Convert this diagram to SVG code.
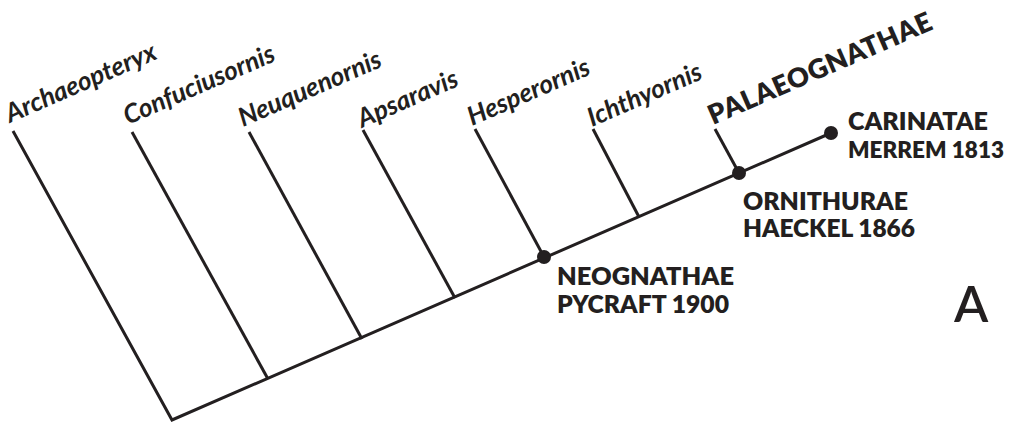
<svg xmlns="http://www.w3.org/2000/svg" width="1012" height="429" viewBox="0 0 1012 429">
<style>
.ln{stroke:#231f20;stroke-width:3;fill:none;stroke-linecap:butt}
.dot{fill:#231f20}
.tx{font-family:Lato,"Open Sans","Liberation Sans",sans-serif;font-style:italic;font-weight:700;font-size:26px;fill:#231f20}
.cl{font-family:Lato,"Open Sans","Liberation Sans",sans-serif;font-weight:800;font-size:24px;fill:#231f20}
.pl{font-size:27px;letter-spacing:0.5px}
.sm{font-size:22px}
.big{font-family:Lato,"Open Sans","Liberation Sans",sans-serif;font-weight:600;font-size:50px;fill:#231f20}
</style>
<g id="connectors">
<polyline class="ln" points="13,131 172,420 831,133"/>
<line class="ln" x1="132" y1="132" x2="268" y2="379"/>
<line class="ln" x1="249" y1="132" x2="362" y2="339"/>
<line class="ln" x1="363" y1="130" x2="455" y2="298"/>
<line class="ln" x1="475" y1="129" x2="544" y2="257"/>
<line class="ln" x1="593" y1="129" x2="639" y2="217"/>
<line class="ln" x1="715" y1="129" x2="739" y2="173"/>
</g>
<g id="node-archaeopteryx"><text class="tx" transform="translate(10,123) rotate(-23.5)">Archaeopteryx</text></g>
<g id="node-confuciusornis"><text class="tx" transform="translate(128,125) rotate(-23.5)">Confuciusornis</text></g>
<g id="node-neuquenornis"><text class="tx" transform="translate(243,127) rotate(-23.5)">Neuquenornis</text></g>
<g id="node-apsaravis"><text class="tx" transform="translate(362,128) rotate(-23.5)">Apsaravis</text></g>
<g id="node-hesperornis"><text class="tx" transform="translate(472,126) rotate(-23.5)">Hesperornis</text></g>
<g id="node-ichthyornis"><text class="tx" transform="translate(592,127) rotate(-23.5)">Ichthyornis</text></g>
<g id="node-palaeognathae"><text class="cl pl" transform="translate(713,125) rotate(-23.5)">PALAEOGNATHAE</text></g>
<g id="node-neognathae">
<circle class="dot" cx="544" cy="257" r="7"/>
<text class="cl" x="557" y="285" textLength="177" lengthAdjust="spacingAndGlyphs">NEOGNATHAE</text>
<text class="cl" x="557" y="313" textLength="172" lengthAdjust="spacingAndGlyphs">PYCRAFT 1900</text>
</g>
<g id="node-ornithurae">
<circle class="dot" cx="739" cy="173" r="7"/>
<text class="cl" x="743" y="210" textLength="165" lengthAdjust="spacingAndGlyphs">ORNITHURAE</text>
<text class="cl" x="743" y="237" textLength="172" lengthAdjust="spacingAndGlyphs">HAECKEL 1866</text>
</g>
<g id="node-carinatae">
<circle class="dot" cx="831" cy="133" r="7"/>
<text class="cl" x="848" y="130" textLength="140" lengthAdjust="spacingAndGlyphs">CARINATAE</text>
<text class="cl sm" x="848" y="158" textLength="156" lengthAdjust="spacingAndGlyphs">MERREM 1813</text>
</g>
<g id="label-a"><text class="big" x="954" y="322">A</text></g>
</svg>
